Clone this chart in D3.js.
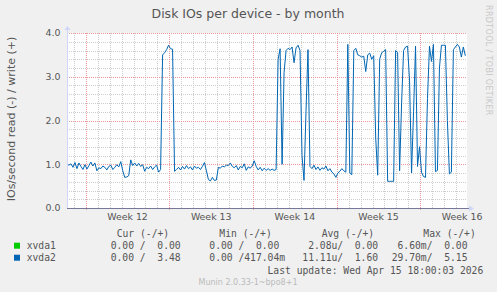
<!DOCTYPE html>
<html>
<head>
<meta charset="utf-8">
<script src="https://cdn.jsdelivr.net/npm/d3@7"></script>
<style>
  body { margin: 0; background: #f0f0f0; }
  svg { display: block; }
  text { fill: #555; }
</style>
</head>
<body>
<div id="chart"></div>
<script>
const title = "Disk IOs per device - by month";
const yLabel = "IOs/second read (-) / write (+)";
const yTicks = [0, 1, 2, 3, 4];
const weekLabels = ["Week 12", "Week 13", "Week 14", "Week 15", "Week 16"];

// xvda2 write IOs/s, one sample every 4 hours from 2026-03-14 10:26 UTC
const xvda2Write = [
  1.00, 0.98, 1.01, 0.93, 1.04, 0.90, 1.03, 0.95, 0.88, 0.99,
  0.89, 0.97, 1.05, 0.96, 1.03, 0.85, 0.92, 0.90, 0.96, 0.93,
  0.87, 0.95, 0.98, 0.88, 0.93, 0.99, 0.94, 1.06, 0.85, 0.70,
  0.71, 0.74, 1.10, 0.97, 1.03, 0.96, 1.02, 0.95, 0.99, 0.84,
  0.93, 0.90, 0.96, 0.88, 0.94, 0.98, 0.82, 0.88, 3.50, 3.55,
  3.62, 3.72, 3.64, 3.63, 0.84, 0.88, 0.93, 0.87, 0.95, 0.89,
  0.97, 0.90, 0.94, 0.87, 0.96, 0.91, 0.93, 0.88, 0.95, 1.04,
  0.85, 0.65, 0.62, 0.70, 0.63, 0.64, 0.93, 0.91, 0.96, 0.94,
  0.98, 0.97, 1.03, 0.95, 0.92, 0.97, 0.87, 0.95, 0.92, 1.01,
  0.86, 0.94, 0.91, 0.96, 1.08, 0.95, 0.87, 0.93, 0.85, 0.91,
  0.86, 0.90, 0.86, 0.89, 0.86, 0.88, 3.40, 3.64, 1.00, 3.10,
  3.60, 3.65, 3.62, 3.68, 3.32, 3.66, 3.72, 3.60, 1.20, 0.63,
  2.20, 3.62, 0.95, 0.90, 0.98, 0.88, 0.94, 0.86, 0.92, 0.89,
  0.96, 0.85, 0.90, 0.82, 0.78, 0.70, 0.80, 0.84, 0.90, 0.85,
  0.82, 3.74, 0.80, 0.76, 3.60, 3.65, 3.50, 3.48, 3.45, 3.47,
  3.12, 3.50, 3.54, 3.40, 3.48, 1.60, 0.75, 3.40, 3.55, 3.58,
  3.62, 0.61, 0.61, 0.61, 0.61, 3.60, 3.55, 0.85, 2.40, 3.60,
  3.68, 3.70, 2.90, 0.80, 2.20, 3.70, 0.95, 1.40, 0.82, 0.72,
  0.70, 2.50, 3.70, 3.35, 3.74, 0.83, 0.86, 3.20, 3.72, 3.72,
  3.72, 2.00, 0.78, 0.82, 3.62, 3.68, 3.74, 3.68, 3.45, 3.68,
  3.48
];

const legendNames = ["xvda1", "xvda2"];
const legendColors = ["#00cc00", "#0066b3"];
const legendHeaders = ["Cur (-/+)", "Min (-/+)", "Avg (-/+)", "Max (-/+)"];
const legendValues = [
  ["0.00 /  0.00", "0.00 /  0.00", " 2.08u/  0.00", " 6.60m/  0.00"],
  ["0.00 /  3.48", "0.00 /417.04m", "11.11u/  1.60", "29.70m/  5.15"]
];
const lastUpdate = "Last update: Wed Apr 15 18:00:03 2026";
const version = "Munin 2.0.33-1~bpo8+1";

const W = 497, H = 292;
const pl = 67, pt = 33, pw = 400, ph = 175;
const DAY = 864e5;
const t0 = Date.UTC(2026, 2, 14, 10, 26);
const t1 = t0 + 33.473 * DAY;
const step = 4 * 3600e3;

const sans = "'DejaVu Sans', sans-serif";
const mono = "'DejaVu Sans Mono', monospace";

const svg = d3.select("#chart").append("svg")
  .attr("width", W).attr("height", H);

svg.append("rect").attr("width", W).attr("height", H).attr("fill", "#f0f0f0");
svg.append("rect").attr("x", pl).attr("y", pt)
  .attr("width", pw).attr("height", ph).attr("fill", "#fff");

const x = d3.scaleUtc().domain([new Date(t0), new Date(t1)]).range([pl, pl + pw]);
const y = d3.scaleLinear().domain([0, 4]).range([pt + ph, pt]);

// grid
const g = svg.append("g").attr("shape-rendering", "crispEdges");
const minorY = d3.range(0, 4.01, 0.2).filter(v => Math.abs(v - Math.round(v)) > 0.01);
g.selectAll(".hmin").data(minorY).enter().append("line")
  .attr("x1", pl).attr("x2", pl + pw)
  .attr("y1", d => Math.round(y(d)) + 0.5).attr("y2", d => Math.round(y(d)) + 0.5)
  .attr("stroke", "#cdcdcd").attr("stroke-dasharray", "1,1");
const days = d3.utcDay.range(new Date(t0), new Date(t1));
g.selectAll(".vmin").data(days).enter().append("line")
  .attr("x1", d => Math.round(x(d)) + 0.5).attr("x2", d => Math.round(x(d)) + 0.5)
  .attr("y1", pt).attr("y2", pt + ph)
  .attr("stroke", "#cdcdcd").attr("stroke-dasharray", "1,1");
g.selectAll(".hmaj").data(yTicks.slice(1)).enter().append("line")
  .attr("x1", pl).attr("x2", pl + pw)
  .attr("y1", d => Math.round(y(d)) + 0.5).attr("y2", d => Math.round(y(d)) + 0.5)
  .attr("stroke", "#eb9a9a").attr("stroke-dasharray", "1,1");
const mondays = d3.utcMonday.range(new Date(t0), new Date(t1));
g.selectAll(".vmaj").data(mondays).enter().append("line")
  .attr("x1", d => Math.round(x(d)) + 0.5).attr("x2", d => Math.round(x(d)) + 0.5)
  .attr("y1", pt).attr("y2", pt + ph + 2)
  .attr("stroke", "#eb9a9a").attr("stroke-dasharray", "1,1");

// data line
const line = d3.line()
  .x((d, i) => x(new Date(t0 + i * step)))
  .y(d => y(d));
svg.append("path").datum(xvda2Write)
  .attr("d", line)
  .attr("fill", "none")
  .attr("stroke", "#0066b3")
  .attr("stroke-width", 1)
  .attr("stroke-linejoin", "round");

// axes
svg.append("line").attr("x1", pl + 0.5).attr("x2", pl + 0.5)
  .attr("y1", pt - 4).attr("y2", pt + ph)
  .attr("stroke", "#cfd6f8");
svg.append("path").attr("d", `M${pl - 2.5},${pt - 3} L${pl + 3.5},${pt - 3} L${pl + 0.5},${pt - 7} Z`)
  .attr("fill", "#cfd6f8");
svg.append("line").attr("x1", pl).attr("x2", pl + pw + 3)
  .attr("y1", pt + ph + 0.5).attr("y2", pt + ph + 0.5)
  .attr("stroke", "#77779a");
svg.append("path").attr("d", `M${pl + pw + 2},${pt + ph - 2.5} L${pl + pw + 2},${pt + ph + 3.5} L${pl + pw + 7},${pt + ph + 0.5} Z`)
  .attr("fill", "#cfd6f8");

// y tick labels
svg.selectAll(".ytl").data(yTicks).enter().append("text")
  .attr("x", pl - 6.5).attr("y", d => y(d) + 3.4)
  .attr("text-anchor", "end")
  .style("font", `9.4px ${sans}`)
  .text(d => d.toFixed(1));

// week labels, centered in each week
svg.selectAll(".xtl").data(mondays.slice(0, weekLabels.length)).enter().append("text")
  .attr("x", d => x(new Date(+d + 3.5 * DAY)))
  .attr("y", pt + ph + 11.5)
  .attr("text-anchor", "middle")
  .style("font", `9.4px ${sans}`)
  .text((d, i) => weekLabels[i]);

// title
svg.append("text").attr("x", 248).attr("y", 18)
  .attr("text-anchor", "middle")
  .style("font", `12.5px ${sans}`)
  .text(title);

// y-axis label
svg.append("text")
  .attr("transform", "translate(15,119) rotate(-90)")
  .attr("text-anchor", "middle")
  .style("font", `11px ${sans}`)
  .text(yLabel);

// watermark
svg.append("text")
  .attr("transform", "translate(485.5,5) rotate(90)")
  .style("font", `8px ${sans}`)
  .style("fill", "#c8c8c8")
  .style("letter-spacing", "0.35px")
  .text("RRDTOOL / TOBI OETIKER");

// legend
const headerX = [116.7, 219.3, 321.7, 423.3];
const valueX = [110.7, 209.3, 302.3, 391.7];
const rowY = [245.7, 257.7];
svg.selectAll(".lh").data(legendHeaders).enter().append("text")
  .attr("x", (d, i) => headerX[i]).attr("y", 233.3 + 3.5)
  .attr("xml:space", "preserve")
  .style("font", `9.7px ${mono}`)
  .text(d => d);

legendNames.forEach((name, r) => {
  svg.append("rect").attr("x", 14).attr("y", rowY[r] - 3)
    .attr("width", 6).attr("height", 6).attr("fill", legendColors[r]);
  svg.append("text").attr("x", 26.7).attr("y", rowY[r] + 3.5)
    .style("font", `9.7px ${mono}`).text(name);
  legendValues[r].forEach((v, c) => {
    svg.append("text").attr("x", valueX[c]).attr("y", rowY[r] + 3.5)
      .attr("xml:space", "preserve")
      .style("font", `9.7px ${mono}`)
      .style("white-space", "pre")
      .text(v);
  });
});

svg.append("text").attr("x", 483.3).attr("y", 270 + 3.5)
  .attr("text-anchor", "end")
  .attr("xml:space", "preserve")
  .style("font", `9.7px ${mono}`)
  .style("white-space", "pre")
  .text(lastUpdate);

svg.append("text").attr("x", 248).attr("y", 284.5)
  .attr("text-anchor", "middle")
  .style("font", `8px ${sans}`)
  .style("fill", "#bbb")
  .text(version);
</script>
</body>
</html>
